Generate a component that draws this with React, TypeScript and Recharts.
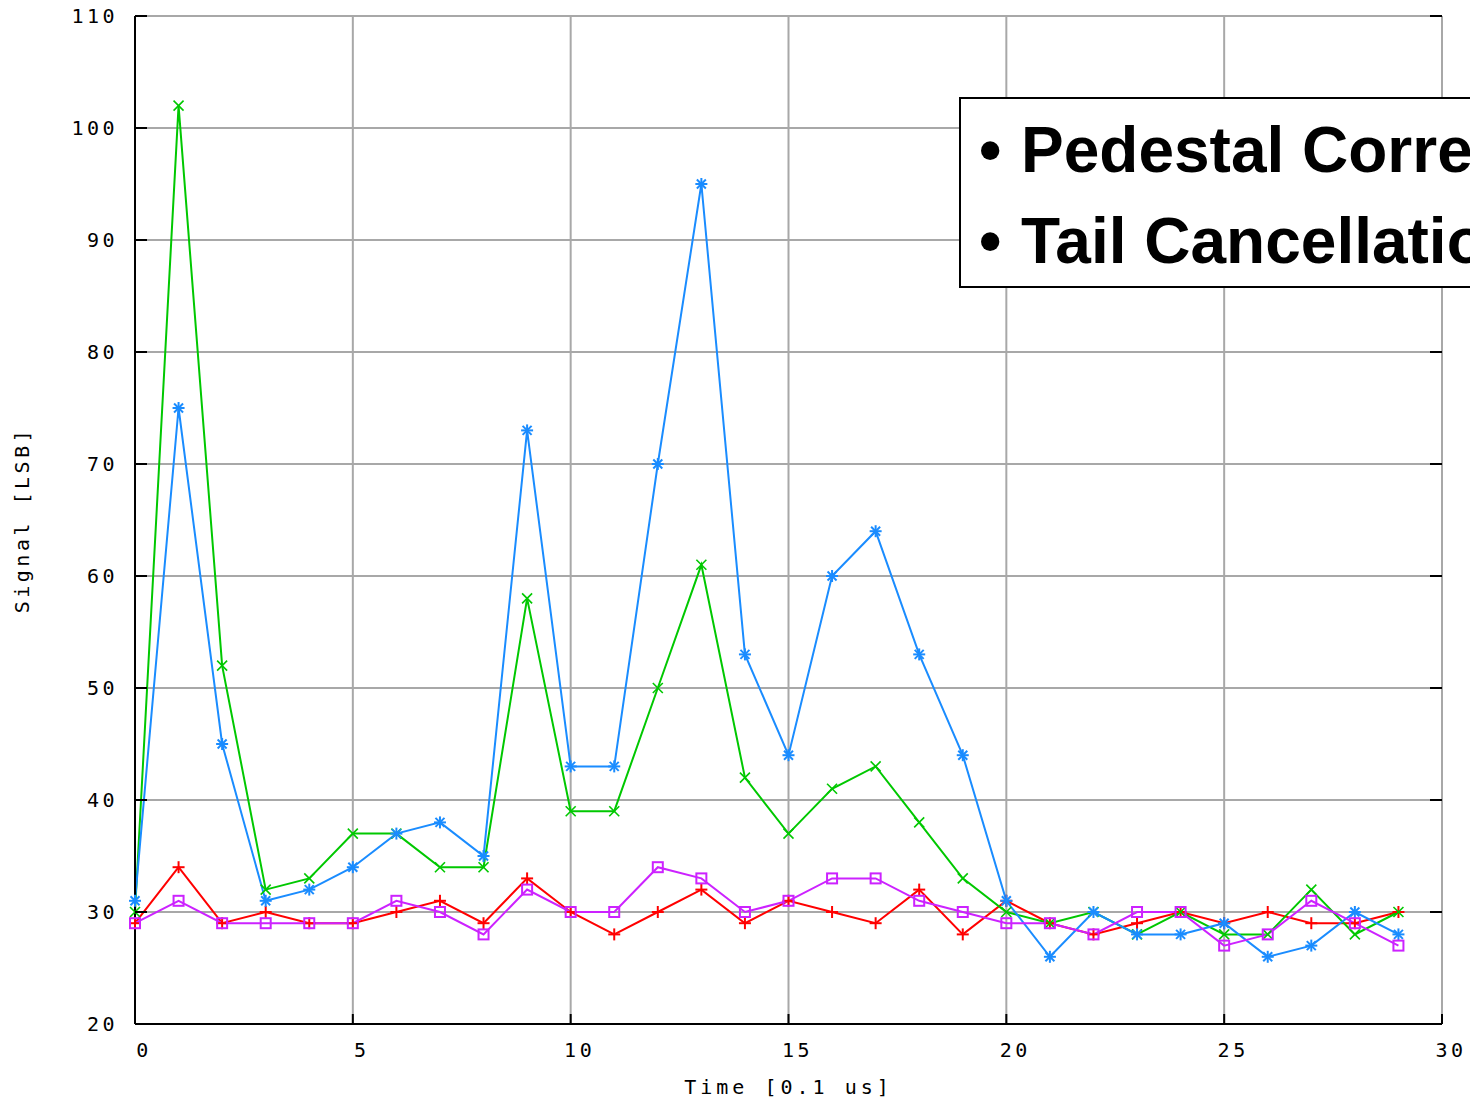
import { LineChart, Line, XAxis, YAxis, CartesianGrid } from "recharts";

const times = [
  0, 1, 2, 3, 4, 5, 6, 7, 8, 9, 10, 11, 12, 13, 14, 15, 16, 17, 18, 19, 20, 21,
  22, 23, 24, 25, 26, 27, 28, 29,
];
const redSignal = [
  29, 34, 29, 30, 29, 29, 30, 31, 29, 33, 30, 28, 30, 32, 29, 31, 30, 29, 32, 28,
  31, 29, 28, 29, 30, 29, 30, 29, 29, 30,
];
const greenSignal = [
  30, 102, 52, 32, 33, 37, 37, 34, 34, 58, 39, 39, 50, 61, 42, 37, 41, 43, 38, 33,
  30, 29, 30, 28, 30, 28, 28, 32, 28, 30,
];
const blueSignal = [
  31, 75, 45, 31, 32, 34, 37, 38, 35, 73, 43, 43, 70, 95, 53, 44, 60, 64, 53, 44,
  31, 26, 30, 28, 28, 29, 26, 27, 30, 28,
];
const magentaSignal = [
  29, 31, 29, 29, 29, 29, 31, 30, 28, 32, 30, 30, 34, 33, 30, 31, 33, 33, 31, 30,
  29, 29, 28, 30, 30, 27, 28, 31, 29, 27,
];
const xTicks = [0, 5, 10, 15, 20, 25, 30];
const yTicks = [20, 30, 40, 50, 60, 70, 80, 90, 100, 110];
const notes = ["Pedestal Correction", "Tail Cancellation"];

const rows = times.map((t, i) => ({
  t,
  red: redSignal[i],
  green: greenSignal[i],
  blue: blueSignal[i],
  magenta: magentaSignal[i],
}));

const W = 1470;
const H = 1098;
const PLOT_LEFT = 135;
const PLOT_RIGHT = 1442;
const PLOT_BOTTOM = 1024;
const MONO = "'DejaVu Sans Mono', monospace";

const RED = "#ff0000";
const GREEN = "#00c800";
const BLUE = "#1a8cff";
const MAGENTA = "#cc22ff";

function PlusDot({ cx, cy, index }: any) {
  const r = 6;
  return (
    <g key={`p${index}`} stroke={RED} strokeWidth={2}>
      <line x1={cx - r} y1={cy} x2={cx + r} y2={cy} />
      <line x1={cx} y1={cy - r} x2={cx} y2={cy + r} />
    </g>
  );
}

function CrossDot({ cx, cy, index }: any) {
  const r = 5;
  return (
    <g key={`x${index}`} stroke={GREEN} strokeWidth={1.6}>
      <line x1={cx - r} y1={cy - r} x2={cx + r} y2={cy + r} />
      <line x1={cx - r} y1={cy + r} x2={cx + r} y2={cy - r} />
    </g>
  );
}

function StarDot({ cx, cy, index }: any) {
  const r = 6;
  const d = 4.5;
  return (
    <g key={`s${index}`} stroke={BLUE} strokeWidth={2}>
      <line x1={cx - r} y1={cy} x2={cx + r} y2={cy} />
      <line x1={cx} y1={cy - r} x2={cx} y2={cy + r} />
      <line x1={cx - d} y1={cy - d} x2={cx + d} y2={cy + d} />
      <line x1={cx - d} y1={cy + d} x2={cx + d} y2={cy - d} />
    </g>
  );
}

function SquareDot({ cx, cy, index }: any) {
  return (
    <rect
      key={`q${index}`}
      x={cx - 5}
      y={cy - 5}
      width={10}
      height={10}
      fill="none"
      stroke={MAGENTA}
      strokeWidth={2}
    />
  );
}

function YTick({ y, payload }: any) {
  return (
    <g>
      <line x1={PLOT_LEFT} y1={y} x2={PLOT_LEFT + 12} y2={y} stroke="#000" strokeWidth={2} />
      <line x1={PLOT_RIGHT - 12} y1={y} x2={PLOT_RIGHT} y2={y} stroke="#000" strokeWidth={2} />
      <text
        x={118}
        y={y + 7}
        textAnchor="end"
        fontFamily={MONO}
        fontSize={20}
        letterSpacing={3.5}
        fill="#000"
      >
        {payload.value}
      </text>
    </g>
  );
}

function XTick({ x, payload }: any) {
  return (
    <g>
      <line x1={x} y1={PLOT_BOTTOM} x2={x} y2={PLOT_BOTTOM - 10} stroke="#000" strokeWidth={2} />
      <text
        x={x + 9}
        y={1057}
        textAnchor="middle"
        fontFamily={MONO}
        fontSize={20}
        letterSpacing={3.5}
        fill="#000"
      >
        {payload.value}
      </text>
    </g>
  );
}

export default function App() {
  return (
    <div
      style={{
        position: "absolute",
        left: 0,
        top: 0,
        width: W,
        height: H,
        overflow: "hidden",
        background: "#fff",
      }}
    >
      <LineChart
        width={W}
        height={H}
        data={rows}
        margin={{ top: 16, right: W - PLOT_RIGHT, bottom: 0, left: 0 }}
      >
        <CartesianGrid stroke="#a8a8a8" strokeWidth={2} />
        <XAxis
          dataKey="t"
          type="number"
          domain={[0, 30]}
          ticks={xTicks}
          height={H - PLOT_BOTTOM}
          axisLine={{ stroke: "#000", strokeWidth: 2 }}
          tickLine={false}
          tick={<XTick />}
          label={{
            value: "Time [0.1 us]",
            position: "insideBottom",
            offset: 4,
            dx: 0,
            style: { fontFamily: MONO, fontSize: 20, letterSpacing: 4, fill: "#000" },
          }}
        />
        <XAxis
          xAxisId="top"
          dataKey="t"
          type="number"
          domain={[0, 30]}
          orientation="top"
          height={0}
          tick={false}
          tickLine={false}
          axisLine={{ stroke: "#000", strokeWidth: 2 }}
        />
        <YAxis
          type="number"
          domain={[20, 110]}
          ticks={yTicks}
          width={PLOT_LEFT}
          axisLine={{ stroke: "#000", strokeWidth: 2 }}
          tickLine={false}
          tick={<YTick />}
          label={{
            value: "Signal [LSB]",
            angle: -90,
            position: "insideLeft",
            offset: 22,
            style: {
              fontFamily: MONO,
              fontSize: 20,
              letterSpacing: 3.5,
              fill: "#000",
              textAnchor: "middle",
            },
          }}
        />
        <YAxis
          yAxisId="right"
          orientation="right"
          type="number"
          domain={[20, 110]}
          width={0}
          tick={false}
          tickLine={false}
          axisLine={{ stroke: "#000", strokeWidth: 2 }}
        />
        <Line
          dataKey="red"
          stroke={RED}
          strokeWidth={2}
          dot={(p: any) => <PlusDot {...p} key={`r${p.index}`} />}
          isAnimationActive={false}
        />
        <Line
          dataKey="green"
          stroke={GREEN}
          strokeWidth={2}
          dot={(p: any) => <CrossDot {...p} key={`g${p.index}`} />}
          isAnimationActive={false}
        />
        <Line
          dataKey="blue"
          stroke={BLUE}
          strokeWidth={2}
          dot={(p: any) => <StarDot {...p} key={`b${p.index}`} />}
          isAnimationActive={false}
        />
        <Line
          dataKey="magenta"
          stroke={MAGENTA}
          strokeWidth={2}
          dot={(p: any) => <SquareDot {...p} key={`m${p.index}`} />}
          isAnimationActive={false}
        />
      </LineChart>
      <div
        style={{
          position: "absolute",
          left: 959,
          top: 97,
          width: 700,
          height: 191,
          border: "2px solid #000",
          background: "#fff",
          fontFamily: "'Liberation Sans', Arial, sans-serif",
          fontWeight: "bold",
          fontSize: 64,
          lineHeight: "91px",
          paddingTop: 6,
          paddingLeft: 18,
          boxSizing: "border-box",
          whiteSpace: "nowrap",
        }}
      >
        {notes.map((n) => (
          <div key={n}>
            <span style={{ display: "inline-block", width: 42 }}>•</span>
            {n}
          </div>
        ))}
      </div>
    </div>
  );
}
